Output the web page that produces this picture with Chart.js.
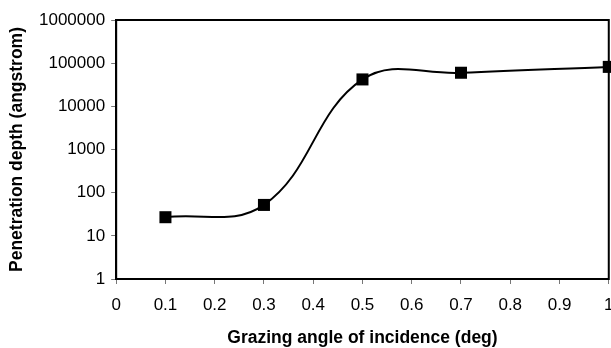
<!DOCTYPE html>
<html>
<head>
<meta charset="utf-8">
<script src="https://cdn.jsdelivr.net/npm/chart.js@4/dist/chart.umd.min.js"></script>
<style>
    html, body { margin: 0; padding: 0; background: #fff; overflow: hidden; }
    #wrap { width: 626px; height: 348px; }
</style>
</head>
<body>
<div id="wrap"><canvas id="depthChart"></canvas></div>
<script>
// --- data ---
const angles = [0.1, 0.3, 0.5, 0.7, 1.0];          // grazing angle (deg)
const depths = [27, 52, 42000, 60000, 82000];      // penetration depth (angstrom)
const yTickValues = [1, 10, 100, 1000, 10000, 100000, 1000000];

const FONT = "'Liberation Sans', Arial, sans-serif";

// frame round the plot area (Excel style box)
const frameBox = {
    id: 'frameBox',
    afterDatasetsDraw(chart) {
        const { ctx, chartArea: a } = chart;
        ctx.save();
        ctx.strokeStyle = '#000';
        ctx.lineWidth = 2;
        ctx.strokeRect(a.left, a.top, a.right - a.left, a.bottom - a.top);
        ctx.restore();
    }
};

const ctx = document.getElementById('depthChart').getContext('2d');
new Chart(ctx, {
    type: 'line',
    data: {
        datasets: [{
            data: angles.map((x, i) => ({ x, y: depths[i] })),
            borderColor: '#000',
            borderWidth: 2,
            tension: 0.4,
            pointStyle: 'rect',
            pointRadius: 8.5,
            pointBackgroundColor: '#000',
            pointBorderColor: '#000',
            pointBorderWidth: 0,
            clip: false
        }]
    },
    options: {
        responsive: true,
        maintainAspectRatio: false,
        animation: false,
        events: [],
        layout: { padding: { left: 7, top: 20, right: 0, bottom: 1 } },
        plugins: { legend: { display: false }, tooltip: { enabled: false } },
        scales: {
            x: {
                type: 'linear',
                min: 0,
                max: 1,
                ticks: {
                    stepSize: 0.1,
                    color: '#000',
                    padding: 12.5,
                    maxRotation: 0,
                    font: { family: FONT, size: 17, lineHeight: 1 },
                    callback: v => Math.round(v * 10) / 10
                },
                grid: { drawOnChartArea: false, tickLength: 5, color: '#777' },
                border: { color: '#000', width: 2 },
                title: {
                    display: true,
                    text: 'Grazing angle of incidence (deg)',
                    color: '#000',
                    font: { family: FONT, size: 17.5, weight: 'bold', lineHeight: 1 },
                    padding: { top: 3.5, bottom: 0 }
                }
            },
            y: {
                type: 'logarithmic',
                min: 1,
                max: 1000000,
                afterBuildTicks: scale => {
                    scale.ticks = yTickValues.map(v => ({ value: v }));
                },
                ticks: {
                    color: '#000',
                    padding: 6,
                    font: { family: FONT, size: 17 },
                    callback: v => String(v)
                },
                grid: { drawOnChartArea: false, tickLength: 5, color: '#777' },
                border: { color: '#000', width: 2 },
                title: {
                    display: true,
                    text: 'Penetration depth (angstrom)',
                    color: '#000',
                    font: { family: FONT, size: 17.5, weight: 'bold' },
                    padding: { top: 0, bottom: 5 }
                }
            }
        }
    },
    plugins: [frameBox]
});
</script>
</body>
</html>
